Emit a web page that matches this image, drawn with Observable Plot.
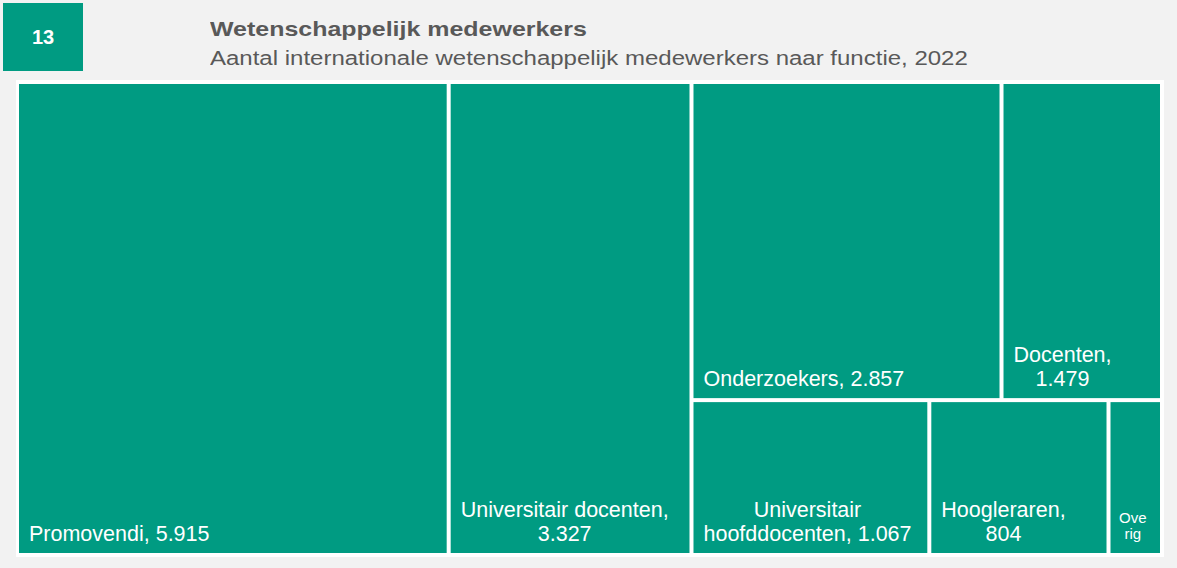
<!DOCTYPE html>
<html>
<head>
<meta charset="utf-8">
<script src="https://cdn.jsdelivr.net/npm/d3@7"></script>
<script src="https://cdn.jsdelivr.net/npm/@observablehq/plot@0.6"></script>
<style>
  html, body { margin: 0; padding: 0; background: #f2f2f2; }
  #wrap { position: relative; width: 1177px; height: 568px; background: #f2f2f2; font-family: "Liberation Sans", Arial, sans-serif; overflow: hidden; }
  #badge { position: absolute; left: 3px; top: 3px; width: 80px; height: 68px; background: #009b82; color: #fff; font-weight: bold; font-size: 20px; display: flex; align-items: center; justify-content: center; }
  .t { position: absolute; left: 210px; white-space: nowrap; color: #595959; transform-origin: 0 0; transform: scaleX(1.2); line-height: 1; }
  #title { top: 19px; font-size: 20.8px; font-weight: bold; }
  #sub { top: 48px; font-size: 20px; }
  #chart { position: absolute; left: 16px; top: 80px; background: #fff; }
</style>
</head>
<body>
<div id="wrap">
  <div id="badge">13</div>
  <div id="title" class="t">Wetenschappelijk medewerkers</div>
  <div id="sub" class="t">Aantal internationale wetenschappelijk medewerkers naar functie, 2022</div>
  <div id="chart"></div>
</div>
<script>
// ---- data ----
const categories = ["Promovendi", "Universitair docenten", "Onderzoekers", "Docenten", "Universitair hoofddocenten", "Hoogleraren", "Overig"];
const values = [5915, 3327, 2857, 1479, 1067, 804, 240];

// ---- layout ----
const W = 1141, H = 469;
const fmt = d3.formatLocale({decimal: ",", thousands: ".", grouping: [3], currency: ["€", ""]}).format(",d");
const root = d3.hierarchy({children: categories.map((name, i) => ({name, value: values[i]}))})
  .sum(d => d.children ? 0 : d.value);
d3.treemap().tile(d3.treemapSquarify.ratio(1)).size([W, H]).paddingInner(4)(root);
const tiles = root.leaves().map(l => ({name: l.data.name, value: l.data.value, x0: l.x0, x1: l.x1, y0: l.y0, y1: l.y1}));

const canvas = document.createElement("canvas");
const ctx = canvas.getContext("2d");
function measure(t, fs) { ctx.font = `${fs}px "Liberation Sans"`; return ctx.measureText(t).width; }
function wrap(text, maxW, fs) {
  const words = text.split(" ");
  const lines = [];
  let cur = "";
  for (const w of words) {
    const t = cur ? cur + " " + w : w;
    if (measure(t, fs) <= maxW) { cur = t; continue; }
    if (cur) lines.push(cur);
    let wd = w;
    while (measure(wd, fs) > maxW && wd.length > 1) {
      let k = wd.length;
      while (k > 1 && measure(wd.slice(0, k), fs) > maxW) k--;
      lines.push(wd.slice(0, k));
      wd = wd.slice(k);
    }
    cur = wd;
  }
  if (cur) lines.push(cur);
  return lines;
}

const labelLines = [];
for (const t of tiles) {
  const w = t.x1 - t.x0;
  const narrow = w < 60;
  const fs = narrow ? 15 : 21.5;
  const lh = narrow ? 16 : 24.5;
  const text = narrow ? t.name : `${t.name}, ${fmt(t.value)}`;
  const lines = wrap(text, w - 20, fs);
  const blockW = d3.max(lines, l => measure(l, fs));
  const cx = t.x0 + (narrow ? 8 : 9.5) + blockW / 2;
  const n = lines.length;
  lines.forEach((l, i) => labelLines.push({text: l, x: cx, y: t.y1 - (narrow ? 15 : 12.5) - (n - 1 - i) * lh, fs}));
}

const chart = Plot.plot({
  width: 1148,
  height: 477,
  margin: 0,
  x: {domain: [0, W], range: [3, 3 + W], axis: null},
  y: {domain: [0, H], range: [4, 4 + H], axis: null},
  style: {background: "#fff", fontFamily: "Liberation Sans"},
  marks: [
    Plot.rect(tiles, {x1: "x0", x2: "x1", y1: "y0", y2: "y1", fill: "#009b82"}),
    Plot.text(labelLines.filter(d => d.fs !== 15), {x: "x", y: "y", text: "text", fill: "#fff", fontSize: 21.5, textAnchor: "middle", lineAnchor: "bottom", fontFamily: "Liberation Sans"}),
    Plot.text(labelLines.filter(d => d.fs === 15), {x: "x", y: "y", text: "text", fill: "#fff", fontSize: 15, textAnchor: "middle", lineAnchor: "bottom", fontFamily: "Liberation Sans"})
  ]
});
document.getElementById("chart").appendChild(chart);
</script>
</body>
</html>
